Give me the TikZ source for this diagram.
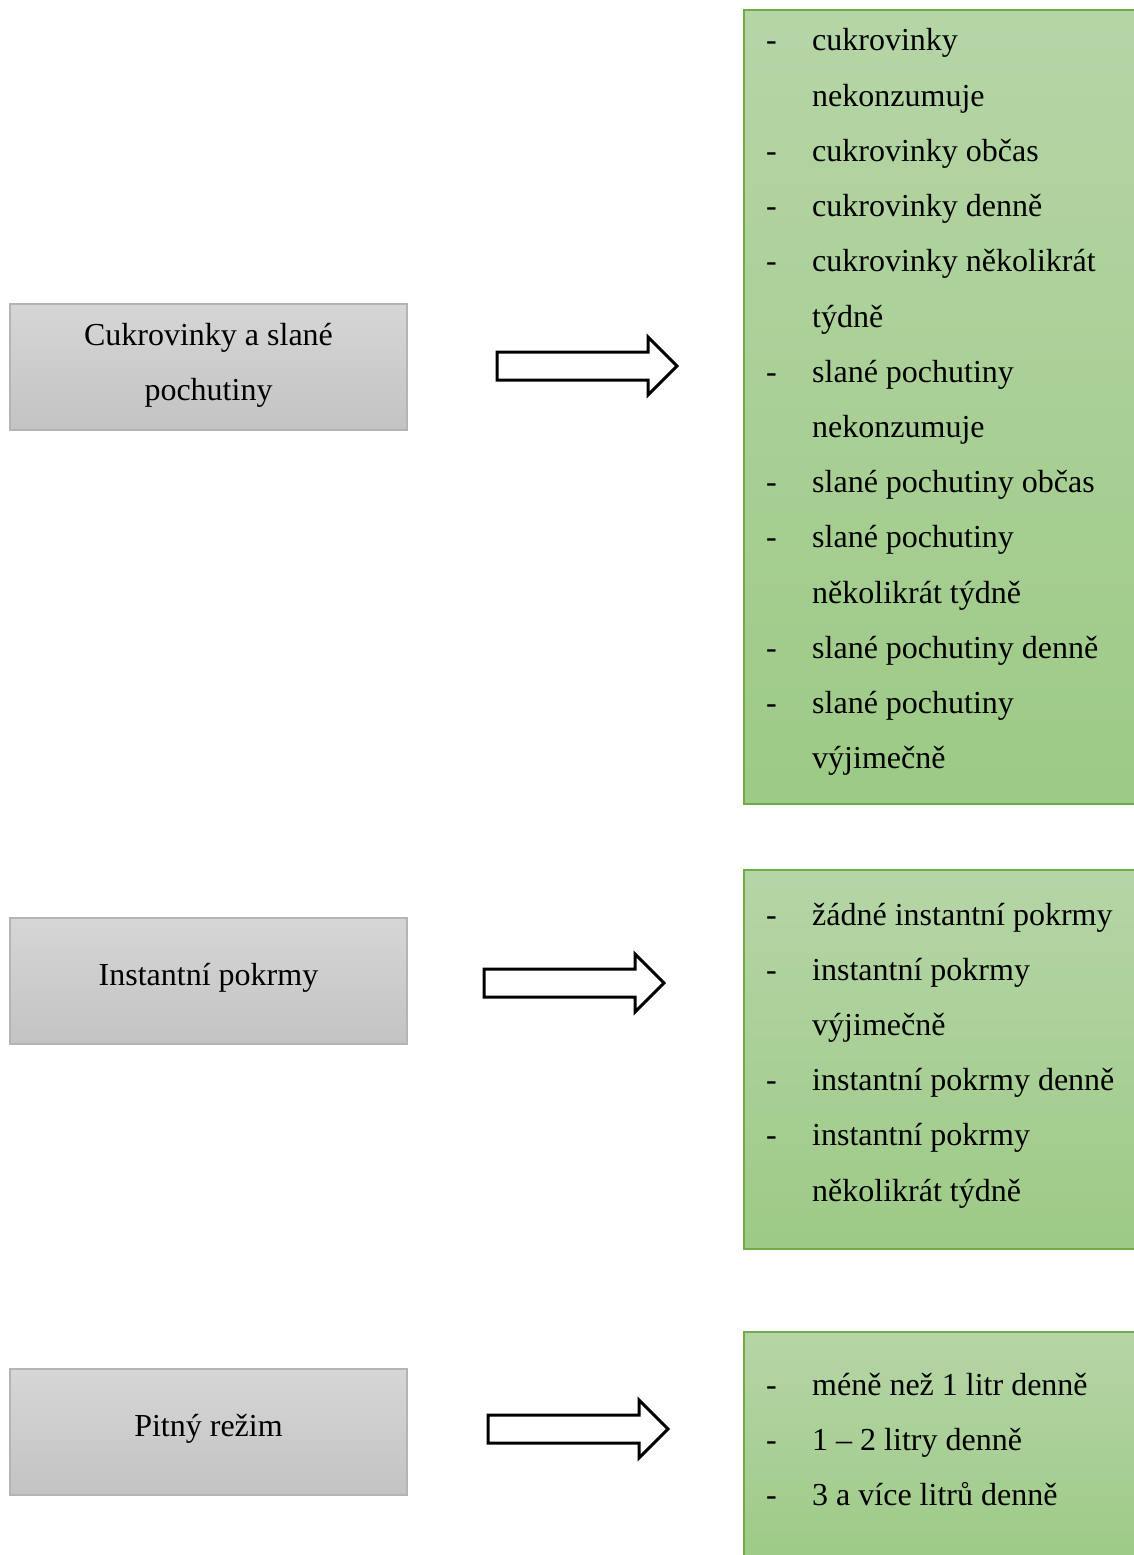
\documentclass[tikz,border=0pt]{standalone}
\usepackage{fontspec}
\setmainfont{Liberation Serif}
\definecolor{graytop}{HTML}{D6D6D6}
\definecolor{graybot}{HTML}{C3C3C3}
\definecolor{grayline}{HTML}{B4B4B4}
\definecolor{greentop}{HTML}{B5D5A6}
\definecolor{greenbot}{HTML}{9DCA86}
\definecolor{greenline}{HTML}{70AD47}
\begin{document}
\begin{tikzpicture}[x=1pt,y=-1pt,
  graybox/.style={draw=grayline, line width=1.5pt, top color=graytop, bottom color=graybot, minimum width=397pt, minimum height=126pt, inner sep=0pt},
  greenbox/.style={draw=greenline, line width=2pt, top color=greentop, bottom color=greenbot, inner sep=0pt},
  blockarrow/.pic={\draw[black, fill=white, line width=3pt, miter limit=10]
     (0,-14) -- (151,-14) -- (151,-29) -- (180,0) -- (151,29) -- (151,14) -- (0,14) -- cycle;},
  txt/.style={anchor=base west, inner sep=0pt, font=\fontsize{32}{55}\selectfont},
  ctxt/.style={anchor=base, inner sep=0pt, font=\fontsize{32}{55}\selectfont}]
\useasboundingbox (0,0) rectangle (1134,1555);
\fill[white] (0,0) rectangle (1134,1555);

% left gray boxes
\node[graybox] (g1) at (208.5,367) {};
\node[ctxt] (g1a) at (208.5,345.5) {Cukrovinky a slané};
\node[ctxt] (g1b) at (208.5,400.5) {pochutiny};
\node[graybox] (g2) at (208.5,981) {};
\node[ctxt] (g2a) at (208.5,985) {Instantní pokrmy};
\node[graybox] (g3) at (208.5,1432) {};
\node[ctxt] (g3a) at (208.5,1436) {Pitný režim};

% block arrows
\pic (a1) at (497,366) {blockarrow};
\pic (a2) at (484,983) {blockarrow};
\pic (a3) at (488,1429) {blockarrow};

% green boxes
\path[greenbox] (744,10) rectangle (1140,804);
\node[inner sep=0pt, minimum size=0pt] (b1) at (942,407) {};
\path[greenbox] (744,870) rectangle (1140,1249);
\node[inner sep=0pt, minimum size=0pt] (b2) at (942,1060) {};
\path[greenbox] (744,1332) rectangle (1140,1565);
\node[inner sep=0pt, minimum size=0pt] (b3) at (942,1445) {};

% box 1 items
\foreach \d/\t [count=\i from 0] in {
  -/cukrovinky, {}/nekonzumuje, -/cukrovinky občas, -/cukrovinky denně,
  -/cukrovinky několikrát, {}/týdně, -/slané pochutiny, {}/nekonzumuje,
  -/slané pochutiny občas, -/slané pochutiny, {}/několikrát týdně,
  -/slané pochutiny denně, -/slané pochutiny, {}/výjimečně}{
  \node[txt] (d1-\i) at (766,{51+55.2*\i}) {\d};
  \node[txt] (t1-\i) at (812,{51+55.2*\i}) {\t};
}
% box 2 items
\foreach \d/\t [count=\i from 0] in {
  -/žádné instantní pokrmy, -/instantní pokrmy, {}/výjimečně,
  -/instantní pokrmy denně, -/instantní pokrmy, {}/několikrát týdně}{
  \node[txt] (d2-\i) at (766,{925+55.2*\i}) {\d};
  \node[txt] (t2-\i) at (812,{925+55.2*\i}) {\t};
}
% box 3 items
\foreach \d/\t [count=\i from 0] in {
  -/méně než 1 litr denně, -/1 – 2 litry denně, -/3 a více litrů denně}{
  \node[txt] (d3-\i) at (766,{1395+55.2*\i}) {\d};
  \node[txt] (t3-\i) at (812,{1395+55.2*\i}) {\t};
}
\end{tikzpicture}
\end{document}
